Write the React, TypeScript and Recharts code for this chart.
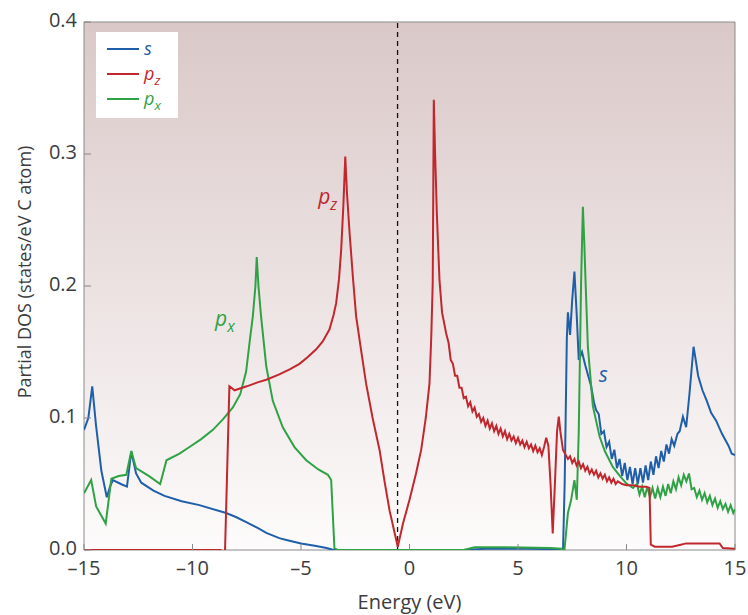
import React from "react";
import {
  LineChart,
  Line,
  XAxis,
  YAxis,
  ReferenceArea,
  ReferenceLine,
  ReferenceDot,
} from "recharts";

// energy (eV) / partial DOS pairs
const sEnergy = [
  -15, -14.8, -14.62, -14.45, -14.2, -13.95, -13.8, -13.67, -13.3, -13.02, -12.82, -12.6, -12.36, -11.8, -11.29,
  -10.5, -9.68, -8.45, -8.0, -7.5, -7.0, -6.6, -6.0, -5.67, -5.0, -4.3, -3.82, -3.5, 2.5, 3.5, 5.5, 6.9, 7.07,
  7.15, 7.25, 7.3, 7.4, 7.5, 7.6, 7.7, 7.8, 7.95, 8.1, 8.37, 8.5, 8.6, 8.72, 8.84, 8.96, 9.08, 9.2, 9.32, 9.44,
  9.56, 9.68, 9.8, 9.92, 10.04, 10.16, 10.28, 10.4, 10.52, 10.64, 10.76, 10.88, 11.0, 11.12, 11.24, 11.36, 11.48,
  11.6, 11.72, 11.84, 11.96, 12.08, 12.2, 12.35, 12.45, 12.6, 12.75, 12.9, 13.09, 13.2, 13.3, 13.5, 13.7, 13.9,
  14.13, 14.4, 14.7, 14.85, 15,
];
const sDos = [
  0.091, 0.1, 0.124, 0.095, 0.06, 0.04, 0.048, 0.053, 0.05, 0.048, 0.0745, 0.058, 0.051, 0.045, 0.041,
  0.037, 0.034, 0.028, 0.025, 0.021, 0.0167, 0.013, 0.009, 0.0076, 0.005, 0.003, 0.0015, 0, 0, 0.001, 0.001, 0.0005, -0.003,
  0.05, 0.16, 0.18, 0.163, 0.19, 0.211, 0.18, 0.144, 0.15, 0.14, 0.124, 0.112, 0.106, 0.103, 0.088, 0.09, 0.078, 0.082, 0.069, 0.076,
  0.062, 0.069, 0.056, 0.066, 0.053, 0.063, 0.05, 0.062, 0.05, 0.062, 0.051, 0.064, 0.053, 0.067, 0.057, 0.071, 0.062,
  0.075, 0.067, 0.08, 0.073, 0.084, 0.079, 0.088, 0.09, 0.101, 0.093, 0.118, 0.154, 0.143, 0.132, 0.121, 0.113, 0.104,
  0.098, 0.088, 0.079, 0.073, 0.072,
];

const pzEnergy = [
  -15, -8.7, -8.57, -8.5, -8.3, -8.06, -7.5, -7.0, -6.6, -6.0, -5.5, -5.07, -4.7, -4.3, -4.0, -3.69, -3.5, -3.38,
  -3.25, -3.15, -3.05, -2.96, -2.88, -2.76, -2.6, -2.46, -2.2, -2.0, -1.7, -1.38, -1.15, -0.92, -0.7, -0.54, -0.3,
  0, 0.3, 0.54, 0.75, 0.92, 1.0, 1.07, 1.12, 1.18, 1.26, 1.38, 1.5, 1.69, 1.8, 1.9, 2.0, 2.1, 2.2, 2.3, 2.4, 2.5,
  2.6, 2.7, 2.8, 2.9, 3.0, 3.1, 3.2, 3.3, 3.4, 3.5, 3.6, 3.7, 3.8, 3.9, 4.0, 4.1, 4.2, 4.3, 4.4, 4.5, 4.6, 4.7,
  4.8, 4.9, 5.0, 5.1, 5.2, 5.3, 5.4, 5.5, 5.6, 5.7, 5.8, 5.9, 6.0, 6.1, 6.2, 6.3, 6.4, 6.5, 6.6, 6.7, 6.8, 6.88,
  6.95, 7.07, 7.2, 7.3, 7.4, 7.5, 7.6, 7.7, 7.8, 7.9, 8.0, 8.1, 8.2, 8.3, 8.4, 8.5, 8.6, 8.7, 8.8, 8.9, 9.0, 9.1,
  9.2, 9.3, 9.4, 9.5, 9.6, 9.8, 10.0, 10.3, 10.6, 10.9, 11.06, 11.12, 11.3, 12.1, 12.5, 12.75, 14.29, 14.44, 15,
];
const pzDos = [
  0, 0, -0.003, 0.0, 0.124, 0.121, 0.124, 0.127, 0.129, 0.133, 0.137, 0.141, 0.146, 0.152, 0.158, 0.167, 0.178, 0.187,
  0.205, 0.227, 0.26, 0.298, 0.27, 0.24, 0.205, 0.177, 0.148, 0.126, 0.1, 0.0758, 0.052, 0.03, 0.014, 0.0025, 0.02,
  0.038, 0.058, 0.076, 0.1, 0.126, 0.16, 0.202, 0.341, 0.3, 0.255, 0.205, 0.18, 0.164, 0.157, 0.144, 0.141, 0.132, 0.132, 0.123, 0.123, 0.115,
  0.116, 0.109, 0.112, 0.105, 0.108, 0.101, 0.103, 0.097, 0.1, 0.094, 0.098, 0.092, 0.096, 0.09, 0.094, 0.088, 0.092, 0.086, 0.09, 0.084, 0.088, 0.083,
  0.086, 0.081, 0.085, 0.08, 0.083, 0.078, 0.082, 0.077, 0.08, 0.075, 0.079, 0.074, 0.077, 0.072, 0.078, 0.085, 0.079, 0.05, 0.0126, 0.05, 0.09, 0.101,
  0.09, 0.076, 0.072, 0.069, 0.071, 0.066, 0.069, 0.064, 0.067, 0.062, 0.065, 0.06, 0.063, 0.058, 0.061, 0.057, 0.06, 0.055, 0.058, 0.054, 0.057, 0.052,
  0.055, 0.051, 0.054, 0.05, 0.052, 0.05, 0.049, 0.049, 0.048, 0.048, 0.047, 0.004, 0.0025, 0.0025, 0.004, 0.005, 0.005, 0.0015, 0.001,
];

const pxEnergy = [
  -15, -14.67, -14.44, -14.2, -14.0, -13.74, -13.4, -13.05, -12.82, -12.6, -12.0, -11.49, -11.2, -10.6, -10.14,
  -9.6, -9.06, -8.6, -8.14, -7.8, -7.53, -7.35, -7.22, -7.1, -7.04, -6.96, -6.84, -6.6, -6.3, -5.84, -5.3, -4.76,
  -4.2, -3.76, -3.61, -3.46, -3.3, 2.5, 3.0, 4.5, 6.5, 7.0, 7.14, 7.3, 7.45, 7.6, 7.71, 7.8, 7.91, 7.99, 8.05,
  8.11, 8.22, 8.45, 8.76, 9.0, 9.37, 9.7, 9.99, 10.3, 10.48, 10.6, 10.72, 10.84, 10.96, 11.08, 11.2, 11.32, 11.44,
  11.56, 11.68, 11.8, 11.92, 12.04, 12.16, 12.28, 12.4, 12.52, 12.64, 12.76, 12.88, 13.0, 13.12, 13.24, 13.36,
  13.48, 13.6, 13.72, 13.84, 13.96, 14.08, 14.2, 14.32, 14.44, 14.56, 14.68, 14.8, 14.92, 15,
];
const pxDos = [
  0.043, 0.053, 0.033, 0.026, 0.02, 0.054, 0.056, 0.057, 0.075, 0.062, 0.056, 0.05, 0.068, 0.073, 0.078,
  0.084, 0.091, 0.099, 0.108, 0.118, 0.135, 0.16, 0.177, 0.2, 0.222, 0.2, 0.177, 0.139, 0.113, 0.093, 0.078, 0.068,
  0.061, 0.057, 0.053, 0.0015, 0, 0, 0.002, 0.002, 0.0015, 0.001, 0, 0.028, 0.038, 0.053, 0.038, 0.09, 0.205, 0.26, 0.235,
  0.205, 0.154, 0.109, 0.086, 0.075, 0.063, 0.056, 0.0505, 0.047, 0.05, 0.042, 0.048, 0.04, 0.048, 0.04, 0.047, 0.039, 0.047,
  0.04, 0.048, 0.041, 0.05, 0.043, 0.052, 0.046, 0.055, 0.049, 0.057, 0.052, 0.058, 0.046, 0.047, 0.04, 0.045,
  0.038, 0.043, 0.036, 0.041, 0.034, 0.039, 0.032, 0.037, 0.031, 0.035, 0.029, 0.034, 0.028, 0.031,
];

const xTicks = [-15, -10, -5, 0, 5, 10, 15];
const yTicks = [0, 0.1, 0.2, 0.3, 0.4];
const fermiLevel = -0.55;

const BLUE = "#1f5fa9";
const RED = "#c1272d";
const GREEN = "#2fa246";
const FONT = "'Open Sans', sans-serif";
const TEXT = "#3c3c3c";

const toRows = (es: number[], vs: number[]) => es.map((e, i) => ({ e, v: vs[i] }));
const sData = toRows(sEnergy, sDos);
const pzData = toRows(pzEnergy, pzDos);
const pxData = toRows(pxEnergy, pxDos);

const XTick = ({ x, y, payload }: any) => {
  const label = payload.value < 0 ? `\u2013${Math.abs(payload.value)}` : `${payload.value}`;
  return (
    <g>
      <line x1={x} x2={x} y1={y - 6} y2={y - 12} stroke="#888" strokeWidth={1} />
      <text x={x} y={y + 19} textAnchor="middle" fontSize={20} fill={TEXT} fontFamily={FONT}>
        {label}
      </text>
    </g>
  );
};

const YTick = ({ x, y, payload }: any) => (
  <g>
    <line x1={x + 7} x2={x + 14} y1={y} y2={y} stroke="#888" strokeWidth={1} />
    <text x={x} y={y + 5} textAnchor="end" fontSize={20} fill={TEXT} fontFamily={FONT}>
      {payload.value.toFixed(1)}
    </text>
  </g>
);

const YTitle = () => (
  <text
    x={24}
    y={272}
    transform="rotate(-90, 24, 272)"
    textAnchor="middle"
    dominantBaseline="central"
    fontSize={18}
    fill={TEXT}
    fontFamily={FONT}
  >
    Partial DOS (states/eV C atom)
  </text>
);

const OrbitalText = ({ x, y, base, sub, color, size }: any) => (
  <text x={x} y={y} fill={color} fontSize={size} fontStyle="italic" fontFamily={FONT}>
    {base}
    {sub && (
      <tspan fontSize={size * 0.75} dy={size * 0.3}>
        {sub}
      </tspan>
    )}
  </text>
);

const legendItems = [
  { base: "s", sub: "", color: BLUE },
  { base: "p", sub: "z", color: RED },
  { base: "p", sub: "x", color: GREEN },
];

const LegendBox = () => (
  <svg width={82} height={86} style={{ display: "block" }}>
    <rect x={0} y={0} width={82} height={86} fill="#fff" />
    {legendItems.map((it, i) => (
      <g key={it.color}>
        <line x1={11} x2={43} y1={17 + i * 25} y2={17 + i * 25} stroke={it.color} strokeWidth={2} />
        <OrbitalText x={48} y={23 + i * 25} base={it.base} sub={it.sub} color={it.color} size={18} />
      </g>
    ))}
  </svg>
);

export default function App() {
  return (
    <div style={{ position: "absolute", left: 0, top: 0, width: 748, height: 615, background: "#fff" }}>
      <LineChart width={748} height={615} margin={{ top: 22, right: 13, bottom: 0, left: 0 }}>
        <defs>
          <linearGradient id="bgGrad" x1="0" y1="0" x2="0" y2="1">
            <stop offset="0%" stopColor="#dac8c8" />
            <stop offset="100%" stopColor="#fdfbfb" />
          </linearGradient>
        </defs>
        <XAxis
          dataKey="e"
          type="number"
          domain={[-15, 15]}
          ticks={xTicks}
          allowDataOverflow
          axisLine={false}
          tickLine={false}
          tickSize={0}
          tickMargin={6}
          tick={<XTick />}
          height={65}
          label={{ value: "Energy (eV)", position: "insideBottom", offset: 6, fontSize: 20, fill: TEXT, fontFamily: FONT }}
        />
        <YAxis
          type="number"
          domain={[0, 0.4]}
          ticks={yTicks}
          allowDataOverflow
          axisLine={false}
          tickLine={false}
          tickSize={0}
          tickMargin={7}
          tick={<YTick />}
          width={84}
          label={{ content: () => <YTitle /> }}
        />
        <ReferenceArea x1={-15} x2={15} y1={0} y2={0.4} fill="url(#bgGrad)" fillOpacity={1} stroke="#8a8a8a" strokeWidth={1} />
        <ReferenceLine x={fermiLevel} stroke="#111" strokeDasharray="5 4" strokeWidth={1.3} />
        <Line data={sData} dataKey="v" type="linear" stroke={BLUE} strokeWidth={2} dot={false} isAnimationActive={false} />
        <Line data={pxData} dataKey="v" type="linear" stroke={GREEN} strokeWidth={2} dot={false} isAnimationActive={false} />
        <Line data={pzData} dataKey="v" type="linear" stroke={RED} strokeWidth={2} dot={false} isAnimationActive={false} />
        <ReferenceDot x={-3.75} y={0.262} r={0} shape={(p: any) => <OrbitalText x={p.cx - 10} y={p.cy} base="p" sub="z" color={RED} size={21} />} />
        <ReferenceDot x={-8.5} y={0.17} r={0} shape={(p: any) => <OrbitalText x={p.cx - 10} y={p.cy} base="p" sub="x" color={GREEN} size={21} />} />
        <ReferenceDot x={8.9} y={0.127} r={0} shape={(p: any) => <OrbitalText x={p.cx - 4} y={p.cy} base="s" sub="" color={BLUE} size={21} />} />
      </LineChart>
      <div style={{ position: "absolute", left: 96, top: 32 }}>
        <LegendBox />
      </div>
    </div>
  );
}
